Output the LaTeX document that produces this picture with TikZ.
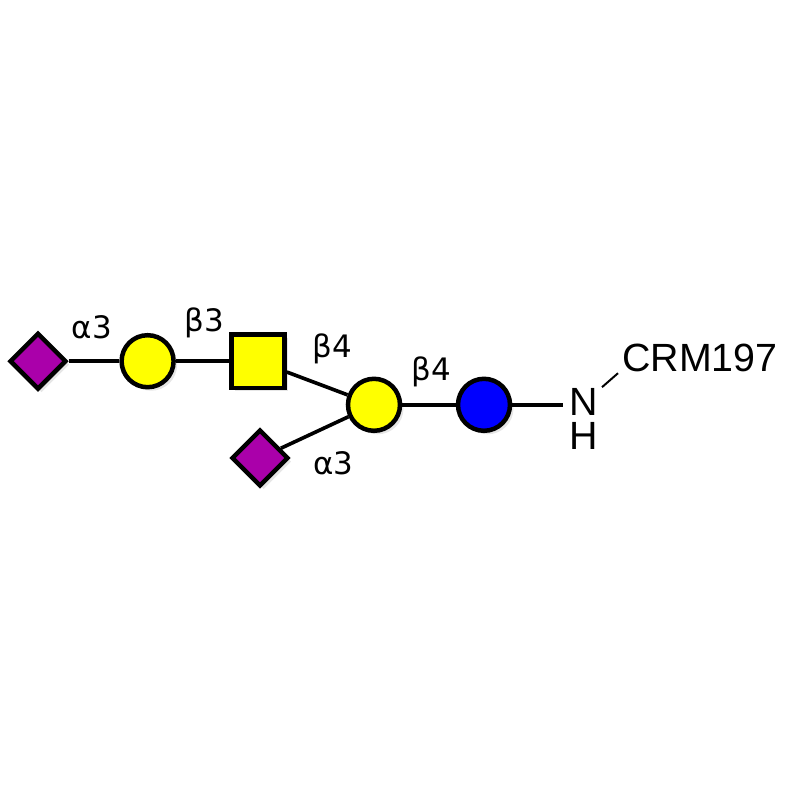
\documentclass[tikz,border=0pt]{standalone}
\usepackage{fontspec}
\setmainfont{Liberation Sans}
\newfontfamily\linkfont{DejaVu Sans}
\usetikzlibrary{shapes.geometric,shadows}

\definecolor{siacol}{RGB}{170,0,170}
\definecolor{galcol}{RGB}{255,255,0}
\definecolor{glccol}{RGB}{0,0,255}

\begin{document}
\begin{tikzpicture}[
    sugar/.style={draw=black, line width=3.2pt, inner sep=0pt,
        drop shadow={shadow xshift=2.5pt, shadow yshift=-2.5pt, opacity=0.2}},
    galnode/.style={sugar, circle, fill=galcol, minimum size=1.3cm},
    glcnode/.style={sugar, circle, fill=glccol, minimum size=1.3cm},
    galnacnode/.style={sugar, rectangle, fill=galcol, minimum size=1.33cm},
    sianode/.style={sugar, diamond, fill=siacol, minimum size=1.42cm},
    bond/.style={line width=2.6pt},
    linklabel/.style={font=\linkfont\fontsize{22}{26}\selectfont},
    atomlabel/.style={font=\fontsize{28}{24}\selectfont, inner sep=0pt}
]

    % Fix the frame of the picture (800 x 800)
    \useasboundingbox (0,0) rectangle (20,-20);

    % Place the sugar residues
    \node[sianode] (sia1) at (0.95,-9.03) {};
    \node[galnode] (gal1) at (3.69,-9.03) {};
    \node[galnacnode] (galnac) at (6.45,-9.03) {};
    \node[galnode] (gal2) at (9.35,-10.12) {};
    \node[sianode] (sia2) at (6.5,-11.45) {};
    \node[glcnode] (glc) at (12.1,-10.12) {};

    % Free end of the linker bond
    \coordinate (linkend) at (14.08,-10.12);

    % Draw the glycosidic bonds
    \draw[bond] (sia1) -- (gal1);
    \draw[bond] (gal1) -- (galnac);
    \draw[bond] (galnac) -- (gal2);
    \draw[bond] (sia2) -- (gal2);
    \draw[bond] (gal2) -- (glc);
    \draw[bond] (glc) -- (linkend);

    % Linkage labels
    \node[linklabel] (l1) at (2.3,-8.18) {α3};
    \node[linklabel] (l2) at (5.1,-8.08) {β3};
    \node[linklabel] (l3) at (8.3,-8.72) {β4};
    \node[linklabel] (l4) at (10.78,-9.3) {β4};
    \node[linklabel] (l5) at (8.33,-11.58) {α3};

    % Amine and carrier protein
    \node[atomlabel, align=center] (amine) at (14.6,-10.48) {N\\H};
    \node[atomlabel, anchor=west] (crm) at (15.55,-8.95) {CRM197};
    \coordinate (nbond) at (15.05,-9.68);
    \coordinate (cbond) at (15.45,-9.33);
    \draw[line width=1.4pt] (nbond) -- (cbond);

\end{tikzpicture}
\end{document}
